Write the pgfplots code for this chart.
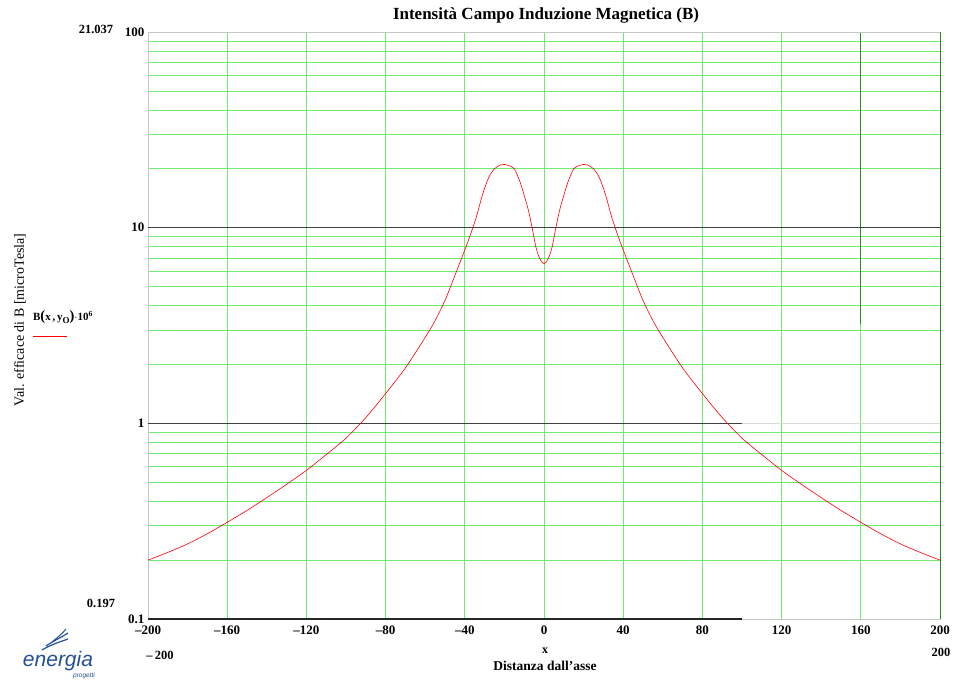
\documentclass[border=0pt]{standalone}
\usepackage{fontspec}
\setmainfont{Liberation Serif}
\newfontfamily\logofont{Liberation Sans}
\usepackage{pgfplots}
\pgfplotsset{compat=1.18}
\definecolor{gridg}{RGB}{110,235,110}
\definecolor{darkg}{RGB}{30,140,30}
\definecolor{logob}{RGB}{35,80,150}
\begin{document}
\begin{tikzpicture}[x=1pt,y=1pt]
\path[use as bounding box] (0,0) rectangle (957,682);
\begin{axis}[
  at={(148pt,63pt)}, anchor=south west,
  width=792pt, height=587pt, scale only axis,
  xmin=-200, xmax=200, ymode=log, ymin=0.1, ymax=100,
  clip=false,
  axis line style={draw=gray!45},
  xtick={-200,-160,...,200},
  xticklabels={--200,--160,--120,--80,--40,0,40,80,120,160,200},
  ytick={0.1,1,10,100},
  yticklabels={0.1,1,10,100},
  minor ytick={0.2,0.3,0.4,0.5,0.6,0.7,0.8,0.9,2,3,4,5,6,7,8,9,20,30,40,50,60,70,80,90},
  major tick length=0pt, minor tick length=0pt,
  xmajorgrids, ymajorgrids, yminorgrids,
  major grid style={draw=gridg, line width=0.7pt},
  minor grid style={draw=gridg, line width=0.7pt},
  tick label style={font=\bfseries\fontsize{13}{13}\selectfont},
  xticklabel style={yshift=-3pt},
  /pgf/number format/assume math mode=true,
]
\addplot[forget plot, darkg, line width=1pt] coordinates {(200,0.1) (200,100)};
\addplot[forget plot, darkg, line width=0.8pt] coordinates {(160,100) (160,3.2)};
\addplot[forget plot, gray!45, line width=0.7pt] coordinates {(-200,100) (200,100)};
\addplot[forget plot, black!75, line width=0.8pt] coordinates {(-200,10) (200,10)};
\addplot[forget plot, black!75, line width=0.8pt] coordinates {(-200,1) (100,1)};
\addplot[forget plot, gray!30, line width=0.8pt] coordinates {(100,1) (200,1)};
\addplot[forget plot, black!85, line width=1.6pt] coordinates {(-200,0.1) (100,0.1)};
\addplot[red, line width=0.6pt, smooth] coordinates {
(-200,0.200) (-190,0.219) (-180,0.242) (-170,0.273) (-160,0.312) (-150,0.359)
(-140,0.417) (-130,0.488) (-120,0.575) (-110,0.692) (-100,0.840) (-90,1.07)
(-80,1.42) (-70,1.92) (-60,2.75) (-55,3.35) (-50,4.25) (-45,5.7) (-40,7.7)
(-37,9.3) (-34,11.5) (-31,14.8) (-28,18.0) (-25,20.0) (-22,20.9) (-20,21.04)
(-18,20.8) (-15,20.0) (-12,17.0) (-10,14.6) (-8,12.4) (-6,10.0) (-4,7.9)
(-2,6.9) (0,6.55)
(2,6.9) (4,7.9) (6,10.0) (8,12.4) (10,14.6) (12,17.0) (15,20.0) (18,20.8)
(20,21.04) (22,20.9) (25,20.0) (28,18.0) (31,14.8) (34,11.5) (37,9.3)
(40,7.7) (45,5.7) (50,4.25) (55,3.35) (60,2.75) (70,1.92) (80,1.42)
(90,1.07) (100,0.840) (110,0.692) (120,0.575) (130,0.488) (140,0.417)
(150,0.359) (160,0.312) (170,0.273) (180,0.242) (190,0.219) (200,0.200)
};
\end{axis}
% title and labels
\node[font=\bfseries\fontsize{17}{18}\selectfont] at (546,667) {Intensità Campo Induzione Magnetica (B)};
\node[rotate=90, font=\fontsize{14}{15}\selectfont] at (20,362) {Val. efficace di B [microTesla]};
\node[font=\bfseries\fontsize{11}{12}\selectfont, inner sep=0pt] at (63,365) {B{\Large(}x\,,\,y\raisebox{-0.6ex}{\small O}{\Large)}$\cdot$10\textsuperscript{6}};
\draw[red, line width=0.7pt] (33,346) -- (67,346);
\node[font=\bfseries\fontsize{12.5}{13}\selectfont, inner sep=0pt] at (96,653) {21.037};
\node[font=\bfseries\fontsize{12.5}{13}\selectfont, inner sep=0pt] at (101,79) {0.197};
\node[font=\bfseries\fontsize{12.5}{13}\selectfont, inner sep=0pt] at (160,27) {--\,200};
\node[font=\bfseries\fontsize{12.5}{13}\selectfont, inner sep=0pt] at (941,30) {200};
\node[font=\bfseries\fontsize{12}{12}\selectfont, inner sep=0pt] at (545,31) {x};
\node[font=\bfseries\fontsize{13.5}{14}\selectfont, inner sep=0pt] at (545,16) {Distanza dall'asse};
% logo
\node[font=\logofont\itshape\fontsize{21}{22}\selectfont, text=logob, inner sep=0pt] at (58,21) {energia};
\node[font=\logofont\itshape\fontsize{6.5}{7}\selectfont, text=logob, inner sep=0pt] at (84,6) {progetti};
\draw[logob, line width=1.2pt] (42,32) .. controls (52,38) and (60,40) .. (68,43);
\draw[logob, line width=1.2pt] (46,36) .. controls (55,42) and (62,45) .. (68,49);
\draw[logob, line width=1.0pt] (52,40) .. controls (58,45) and (63,49) .. (66,53);
\end{tikzpicture}
\end{document}
